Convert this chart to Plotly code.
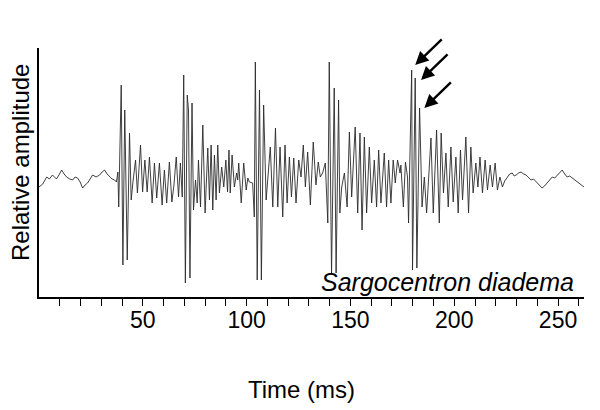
import plotly.graph_objects as go

# waveform: time (ms) and relative amplitude (baseline = 0)
time_ms = [
    0.0, 1.8, 3.7, 5.0, 6.5, 7.4, 8.4, 9.6, 10.9, 12.1, 13.3, 14.8, 16.2, 17.4, 18.6,
    19.8, 21.0, 22.2, 23.4, 24.6, 25.8, 27.5, 29.2, 30.4, 31.6, 32.8, 34.0, 35.2, 36.4, 37.3,
    # pulse 1
    38.0, 38.4, 39.6, 40.4, 41.3, 42.5, 43.6, 44.4, 45.2, 46.5, 47.4, 48.9, 49.9, 51.0,
    52.1, 53.2, 54.5, 55.6, 56.7, 58.0, 59.3, 60.4, 61.5, 62.8, 64.0, 65.0, 66.1, 67.2,
    68.1, 69.0,
    # pulse 2
    69.7, 70.5, 71.4, 72.0, 72.7, 73.7, 74.4, 75.4, 76.2, 76.8, 77.8, 78.9, 80.0, 81.3,
    82.1, 82.9, 83.7, 84.5, 85.3, 86.1, 86.9, 88.0, 89.0, 90.0, 90.8, 91.5, 92.1, 93.0,
    94.1, 95.2, 95.7, 96.2, 97.4, 98.6, 99.8, 100.6, 101.3, 102.9, 103.7,
    # pulse 3
    104.2, 105.1, 106.2, 107.1, 108.2, 109.4, 110.5, 111.4, 112.6, 113.9, 115.0, 116.1,
    117.4, 118.5, 119.5, 120.6, 121.6, 122.7, 123.8, 125.1, 126.2, 127.3, 128.3, 129.4,
    130.7, 132.1, 133.4, 134.5, 135.5, 136.6, 137.9, 139.1,
    # pulse 4
    139.8, 140.9, 142.2, 143.1, 144.3, 144.9, 145.8, 147.1, 148.4, 149.5, 150.6, 152.3,
    153.5, 154.6, 155.6, 156.7, 157.8, 159.1, 160.2, 161.5, 162.6, 163.6, 164.7, 166.3,
    167.4, 168.4, 169.5, 170.6, 171.6, 172.7, 173.9, 174.3, 175.5, 176.5, 177.5, 178.0,
    # pulse 5
    179.5, 179.9, 181.2, 182.0, 183.3, 184.5, 185.6, 186.7, 188.8, 189.9, 191.5, 192.8,
    193.7, 194.8, 196.0, 197.1, 198.4, 199.5, 200.8, 201.9, 203.0, 204.0, 205.6, 206.9,
    208.0, 209.1, 210.4, 211.4, 212.4, 213.6, 214.9, 216.0, 217.3, 218.4, 219.7, 220.8,
    222.0, 223.2,
    # tail
    224.3, 225.5, 226.7, 227.9, 228.9, 229.8, 231.0, 232.2, 233.4, 234.6, 235.8, 237.0,
    238.2, 239.5, 240.9, 242.3, 243.5, 244.8, 246.0, 247.2, 248.4, 249.6, 250.8, 252.0,
    253.2, 254.4, 255.6, 256.8, 258.4, 260.1, 261.3, 262.5,
]
amplitude = [
    -0.02, 0.01, 0.08, 0.06, 0.10, 0.08, 0.06, 0.10, 0.15, 0.11, 0.08, 0.06, 0.05, 0.08, 0.07,
    0.03, -0.03, 0.00, 0.02, 0.06, 0.10, 0.08, 0.10, 0.13, 0.15, 0.11, 0.08, 0.06, 0.05, 0.03,
    0.13, -0.22, 1.00, -0.80, 0.75, -0.75, 0.52, -0.15, 0.02, 0.25, -0.08, 0.40, -0.07, 0.25,
    -0.07, 0.28, -0.18, 0.22, -0.13, 0.22, -0.20, 0.15, -0.18, 0.23, -0.17, 0.00, 0.28, -0.12,
    0.22, -0.12,
    1.10, -0.98, 0.90, 0.75, -0.93, 0.82, -0.25, 0.05, -0.18, 0.25, -0.22, 0.60, -0.28, 0.37,
    -0.15, 0.40, -0.25, 0.30, -0.15, 0.40, -0.08, 0.18, -0.02, 0.25, -0.07, 0.35, -0.08, 0.30,
    -0.02, 0.12, 0.05, 0.22, -0.18, 0.22, -0.05, 0.07, 0.03, 0.02, -0.32,
    1.23, -0.95, 0.95, -0.95, 0.80, -0.15, 0.18, 0.38, -0.22, 0.57, -0.22, 0.38,
    -0.32, 0.40, -0.18, 0.28, -0.12, 0.27, -0.18, 0.25, 0.08, 0.40, -0.02, 0.33,
    -0.20, 0.43, 0.00, 0.23, 0.08, 0.12, 0.22, -0.38,
    1.23, -0.88, 0.97, -0.88, 0.85, -0.28, -0.02, 0.12, -0.22, 0.53, -0.12, 0.58,
    -0.28, 0.52, -0.45, 0.48, -0.28, 0.38, -0.18, 0.25, -0.22, 0.35, -0.18, 0.32,
    -0.22, 0.25, -0.18, 0.25, 0.02, 0.25, 0.12, 0.20, -0.22, 0.23, 0.08, -0.38,
    1.15, -0.85, 1.07, -0.83, 0.77, -0.22, 0.08, -0.28, 0.47, -0.28, 0.55, -0.38,
    0.52, -0.08, 0.32, -0.22, 0.38, -0.17, 0.28, -0.28, 0.35, -0.15, 0.48, -0.28,
    0.38, -0.08, 0.22, -0.02, 0.28, -0.08, 0.25, -0.05, 0.20, -0.02, 0.22, -0.05,
    0.08, -0.02,
    0.04, 0.08, 0.11, 0.12, 0.09, 0.10, 0.12, 0.13, 0.11, 0.10, 0.07, 0.05,
    0.06, 0.03, 0.00, -0.03, -0.01, 0.02, 0.05, 0.08, 0.07, 0.10, 0.12, 0.15,
    0.11, 0.08, 0.09, 0.07, 0.05, 0.02, 0.00, -0.02,
]

tick_vals = list(range(10, 270, 10))
tick_text = [str(v) if v % 50 == 0 else "" for v in tick_vals]

# arrows pointing at the three peaks of the last pulse
arrow_t = [181.2, 184.0, 185.6]
arrow_amp = [1.20, 1.05, 0.77]

fig = go.Figure()
fig.add_trace(go.Scatter(x=time_ms, y=amplitude, mode="lines",
                         line=dict(color="#2a2a2a", width=0.9),
                         hoverinfo="skip", showlegend=False))

for t, a in zip(arrow_t, arrow_amp):
    fig.add_annotation(x=t, y=a, xref="x", yref="y", text="", showarrow=True,
                       ax=28, ay=-27, arrowhead=2, arrowsize=1.1, arrowwidth=2.4,
                       arrowcolor="black")

fig.add_annotation(text="<i>Sargocentron diadema</i>", xref="paper", yref="paper",
                   x=0.985, y=0.06, xanchor="right", yanchor="middle", showarrow=False,
                   font=dict(size=25, color="black"))
fig.add_annotation(text="Time (ms)", xref="paper", yref="paper",
                   x=0.482, y=-0.37, xanchor="center", yanchor="middle", showarrow=False,
                   font=dict(size=24, color="black"))
fig.add_annotation(text="Relative amplitude", xref="paper", yref="paper",
                   x=-0.034, y=0.54, xanchor="center", yanchor="middle", showarrow=False,
                   textangle=-90, font=dict(size=24, color="black"))

# page body adds an 8px offset, so the figure is 8px smaller than the window
fig.update_layout(
    width=592, height=402,
    margin=dict(l=31, r=16, t=40, b=113),
    paper_bgcolor="white", plot_bgcolor="white",
    font=dict(family="Liberation Sans, Arial, sans-serif", color="black"),
    xaxis=dict(range=[0, 262.5], showline=True, linecolor="black", linewidth=2,
               showgrid=False, zeroline=False, ticks="outside", ticklen=7,
               tickwidth=1, tickcolor="black", tickvals=tick_vals, ticktext=tick_text,
               tickfont=dict(size=23), ticklabelstandoff=-6),
    yaxis=dict(range=[-1.12, 1.37], showline=True, linecolor="black", linewidth=2,
               showgrid=False, zeroline=False, showticklabels=False, ticks=""),
)

fig.write_html("out.html")
